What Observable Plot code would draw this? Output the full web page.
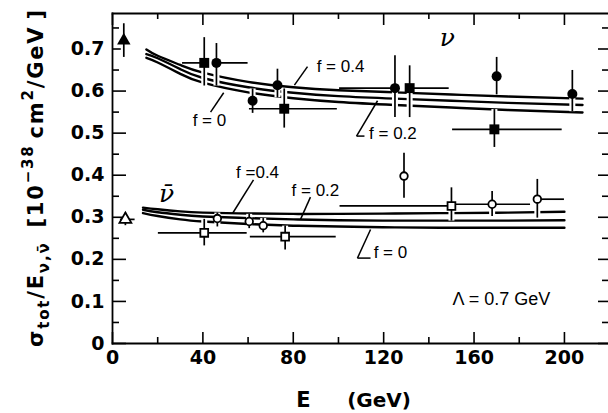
<!DOCTYPE html>
<html><head><meta charset="utf-8">
<script src="https://cdn.jsdelivr.net/npm/d3@7"></script>
<script src="https://cdn.jsdelivr.net/npm/@observablehq/plot@0.6"></script>
<style>body{margin:0;background:#fff}</style>
</head><body><div id="chart"></div>
<script>
// ---- axis ticks ----
const xTicks = [0, 40, 80, 120, 160, 200];
const xTickLabels = ["0", "40", "80", "120", "160", "200"];
const xMinorTicks = [20, 60, 100, 140, 180];
const yTicks = [0, 0.1, 0.2, 0.3, 0.4, 0.5, 0.6, 0.7];
const yTickLabels = ["0", "0.1", "0.2", "0.3", "0.4", "0.5", "0.6", "0.7"];
const yMinorTicks = [0.05, 0.15, 0.25, 0.35, 0.45, 0.55, 0.65, 0.75];

// ---- neutrino data (filled symbols) ----
const nuShape = ["triangle", "square", "circle", "circle", "circle", "square", "circle", "square", "circle", "square", "circle"];
const nuE   = [5, 40.6, 46, 62, 73, 76, 125, 131.5, 170, 169, 203.5];
const nuV   = [0.72, 0.667, 0.667, 0.577, 0.614, 0.558, 0.607, 0.607, 0.635, 0.509, 0.593];
const nuLo  = [0.68, 0.612, 0.612, 0.547, 0.584, 0.512, 0.537, 0.537, 0.591, 0.466, 0.551];
const nuHi  = [0.76, 0.727, 0.713, 0.605, 0.652, 0.605, 0.684, 0.660, 0.680, 0.556, 0.649];
const nuElo = [null, 31, 46, null, null, 60.6, 100.5, 131.5, null, 150.5, null];
const nuEhi = [null, 40.6, 60, null, null, 99.5, 125, 149, null, 199, null];

// ---- antineutrino data (open symbols) ----
const nbShape = ["triangle", "square", "circle", "circle", "circle", "square", "circle", "square", "circle", "circle"];
const nbE   = [5.7, 40.6, 46.4, 60.5, 66.7, 76.4, 129, 150, 168, 188];
const nbV   = [0.295, 0.263, 0.297, 0.290, 0.280, 0.254, 0.398, 0.327, 0.331, 0.343];
const nbLo  = [0.280, 0.232, 0.277, 0.273, 0.263, 0.222, 0.345, 0.291, 0.302, 0.298];
const nbHi  = [0.310, 0.295, 0.310, 0.307, 0.297, 0.279, 0.452, 0.370, 0.361, 0.390];
const nbElo = [3.5, 20.3, null, null, null, 61, null, 100.7, 150, 188];
const nbEhi = [10, 59.6, null, null, null, 99, null, 150, 185, 200];

// ---- model curves (Lambda = 0.7 GeV) ----
const nuCurveE = [15, 20, 30, 40, 60, 80, 100, 125, 150, 175, 208];
const nuF04 = [0.699, 0.684, 0.662, 0.644, 0.622, 0.609, 0.602, 0.597, 0.592, 0.587, 0.582];
const nuF02 = [0.688, 0.678, 0.652, 0.631, 0.609, 0.596, 0.588, 0.582, 0.577, 0.572, 0.567];
const nuF00 = [0.679, 0.668, 0.641, 0.620, 0.597, 0.583, 0.574, 0.567, 0.561, 0.555, 0.549];
const nbCurveE = [13.5, 20, 30, 40, 60, 80, 100, 125, 150, 175, 200];
const nbF04 = [0.323, 0.319, 0.314, 0.311, 0.309, 0.308, 0.308, 0.309, 0.310, 0.311, 0.313];
const nbF02 = [0.318, 0.312, 0.306, 0.302, 0.298, 0.295, 0.293, 0.292, 0.292, 0.292, 0.293];
const nbF00 = [0.310, 0.303, 0.295, 0.290, 0.284, 0.280, 0.278, 0.276, 0.275, 0.275, 0.275];

// ---- annotations ----
const fText = ["f = 0.4", "f = 0", "f = 0.2", "f =0.4", "f = 0.2", "f = 0"];
const fE = [100.9, 42.9, 124.1, 64.2, 89.8, 123.0];
const fV = [0.658, 0.530, 0.500, 0.407, 0.364, 0.215];
const leadE1 = [86.3, 43.4, 117.3, 108.0, 62.4, 87.6, 114.2, 108.4];
const leadV1 = [0.658, 0.550, 0.577, 0.493, 0.389, 0.348, 0.271, 0.203];
const leadE2 = [80.5, 49.2, 108.0, 111.5, 53.1, 83.2, 108.4, 114.2];
const leadV2 = [0.614, 0.596, 0.493, 0.493, 0.309, 0.295, 0.203, 0.203];
const symText = ["ν", "ν\u0304"];
const symE = [148.2, 23.9];
const symV = [0.727, 0.355];
const lamText = ["Λ = 0.7 GeV"];
const lamE = [172.1];
const lamV = [0.105];

// ---- build tables ----
const nu = nuE.map((e, i) => ({E: e, v: nuV[i], lo: nuLo[i], hi: nuHi[i], elo: nuElo[i], ehi: nuEhi[i], shape: nuShape[i]}));
const nb = nbE.map((e, i) => ({E: e, v: nbV[i], lo: nbLo[i], hi: nbHi[i], elo: nbElo[i], ehi: nbEhi[i], shape: nbShape[i]}));
const pts = nu.concat(nb);
const hbars = pts.filter(d => d.elo != null);
const curves = [];
[[nuCurveE, nuF04, "nu04"], [nuCurveE, nuF02, "nu02"], [nuCurveE, nuF00, "nu00"],
 [nbCurveE, nbF04, "nb04"], [nbCurveE, nbF02, "nb02"], [nbCurveE, nbF00, "nb00"]]
  .forEach(([es, vs, id]) => es.forEach((e, i) => curves.push({id, E: e, v: vs[i]})));
const leads = leadE1.map((e, i) => ({x1: e, y1: leadV1[i], x2: leadE2[i], y2: leadV2[i]}));
const fLab = fText.map((t, i) => ({t, E: fE[i], v: fV[i]}));
const symLab = symText.map((t, i) => ({t, E: symE[i], v: symV[i]}));
const lamLab = lamText.map((t, i) => ({t, E: lamE[i], v: lamV[i]}));

const dotSizes = {circle: 5, square: 5.6, triangle: 5};
const dotMarks = [];
for (const s of ["circle", "square", "triangle"]) {
  dotMarks.push(Plot.dot(nu.filter(d => d.shape === s), {x: "E", y: "v", symbol: s, r: dotSizes[s], fill: "black"}));
  dotMarks.push(Plot.dot(nb.filter(d => d.shape === s), {x: "E", y: "v", symbol: s, r: s === "circle" ? 3.8 : 4.4, fill: "white", stroke: "black", strokeWidth: 1.8}));
}

const chart = Plot.plot({
  width: 608, height: 413,
  marginLeft: 112, marginRight: 0, marginTop: 13, marginBottom: 70,
  style: {fontFamily: "'DejaVu Sans', sans-serif", background: "white", color: "black"},
  x: {domain: [0, 219.5]},
  y: {domain: [0, 0.7 * 330 / 294.5]},
  marks: [
    Plot.frame({anchor: "left", strokeWidth: 1.8}),
    Plot.frame({anchor: "bottom", strokeWidth: 1.8}),
    Plot.frame({anchor: "top", strokeWidth: 1.8}),
    Plot.axisY(yMinorTicks, {anchor: "left", tickSize: -7, fill: "none", label: null, strokeWidth: 1.6}),
    Plot.axisY(yTicks, {anchor: "left", tickSize: -14, fill: "none", label: null, strokeWidth: 1.6}),
    Plot.axisY(yTicks, {anchor: "left", tickSize: 0, tickPadding: 8, fontSize: 19, fontWeight: "bold", label: null,
      tickFormat: d => yTickLabels[yTicks.indexOf(d)]}),
    Plot.axisY(yMinorTicks, {anchor: "right", tickSize: -7, fill: "none", label: null, strokeWidth: 1.6}),
    Plot.axisY(yTicks, {anchor: "right", tickSize: -11, fill: "none", label: null, strokeWidth: 1.6}),
    Plot.axisX(xMinorTicks, {anchor: "bottom", tickSize: -6, fill: "none", label: null, strokeWidth: 1.6}),
    Plot.axisX(xTicks, {anchor: "bottom", tickSize: -11, fill: "none", label: null, strokeWidth: 1.6}),
    Plot.axisX(xTicks, {anchor: "bottom", tickSize: 0, tickPadding: 7, fontSize: 19, fontWeight: "bold", label: null,
      tickFormat: d => xTickLabels[xTicks.indexOf(d)]}),
    Plot.axisX(xMinorTicks, {anchor: "top", tickSize: -5, fill: "none", label: null, strokeWidth: 1.6}),
    Plot.axisX(xTicks, {anchor: "top", tickSize: -11, fill: "none", label: null, strokeWidth: 1.6}),
    Plot.line(curves, {x: "E", y: "v", z: "id", curve: "natural", stroke: "black", strokeWidth: 2.4}),
    Plot.ruleX(pts, {x: "E", y1: "lo", y2: "hi", stroke: "white", strokeWidth: 6}),
    Plot.ruleY(hbars, {y: "v", x1: "elo", x2: "ehi", stroke: "black", strokeWidth: 1.7}),
    Plot.ruleX(pts, {x: "E", y1: "lo", y2: "hi", stroke: "black", strokeWidth: 1.7}),
    ...dotMarks,
    Plot.link(leads, {x1: "x1", y1: "y1", x2: "x2", y2: "y2", stroke: "black", strokeWidth: 1.5}),
    Plot.text(fLab, {x: "E", y: "v", text: "t", fontSize: 17, fontFamily: "'Liberation Sans', sans-serif", fill: "black"}),
    Plot.text(symLab, {x: "E", y: "v", text: "t", fontSize: 25, fontStyle: "italic", fontFamily: "'DejaVu Serif', serif", fill: "black"}),
    Plot.text(lamLab, {x: "E", y: "v", text: "t", fontSize: 18, fontFamily: "'Liberation Sans', sans-serif", fill: "black"})
  ]
});
document.getElementById("chart").appendChild(chart);

// axis titles
const svg = d3.select(chart);
svg.append("text").attr("x", 303.5).attr("y", 407).attr("text-anchor", "middle")
  .attr("font-size", 21).attr("font-weight", "bold").attr("fill", "black").text("E");
svg.append("text").attr("x", 379).attr("y", 407).attr("text-anchor", "middle")
  .attr("font-size", 20).attr("font-weight", "bold").attr("fill", "black").text("(GeV)");

const yl = svg.append("text").attr("transform", "translate(43,178.5) rotate(-90)")
  .attr("text-anchor", "middle").attr("font-size", 21).attr("font-weight", "bold").attr("fill", "black")
  .attr("textLength", 337).attr("lengthAdjust", "spacing");
yl.append("tspan").text("σ");
yl.append("tspan").attr("font-size", 15).attr("dy", 6).text("tot");
yl.append("tspan").attr("dy", -6).text("/E");
yl.append("tspan").attr("font-size", 15).attr("dy", 6).text("ν,ν\u0304");
yl.append("tspan").attr("dy", -6).attr("dx", 14).text("[10");
yl.append("tspan").attr("font-size", 15).attr("dy", -10).text("−38");
yl.append("tspan").attr("dy", 10).attr("dx", 6).text("cm");
yl.append("tspan").attr("font-size", 15).attr("dy", -10).text("2");
yl.append("tspan").attr("dy", 10).text("/GeV");
yl.append("tspan").attr("dx", 6).text("]");
</script>
</body></html>
